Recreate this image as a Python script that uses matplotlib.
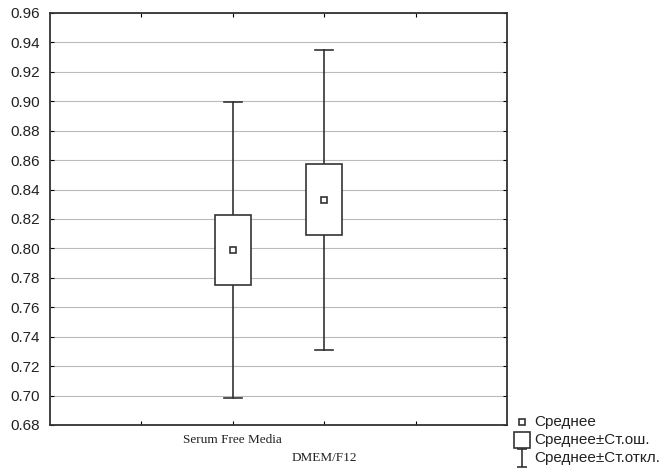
import matplotlib
matplotlib.use("Agg")
import matplotlib.pyplot as plt
from matplotlib.lines import Line2D
from matplotlib.patches import Rectangle
from matplotlib.path import Path

groups = ["Serum Free Media", "DMEM/F12"]
means = [0.799, 0.833]
se = [0.0238, 0.0242]
sd = [0.1008, 0.1019]
yticks = [0.68, 0.70, 0.72, 0.74, 0.76, 0.78, 0.80, 0.82, 0.84, 0.86, 0.88, 0.90, 0.92, 0.94, 0.96]
legend_labels = ["Среднее", "Среднее±Ст.ош.", "Среднее±Ст.откл."]

positions = [2, 3]
W, H = 662, 472

fig = plt.figure(figsize=(6.62, 4.72), dpi=100)
ax = fig.add_axes([50/W, 1-425/H, 457/W, 412/H])
ax.set_xlim(0, 5)
ax.set_ylim(0.68, 0.96)

col = "#333333"
for p, m, e, s in zip(positions, means, se, sd):
    ax.plot([p, p], [m - s, m - e], color=col, lw=1.2, zorder=3)
    ax.plot([p, p], [m + e, m + s], color=col, lw=1.2, zorder=3)
    ax.plot([p - 0.1, p + 0.1], [m - s, m - s], color=col, lw=1.2, zorder=3)
    ax.plot([p - 0.1, p + 0.1], [m + s, m + s], color=col, lw=1.2, zorder=3)
    ax.add_patch(Rectangle((p - 0.2, m - e), 0.4, 2 * e, facecolor="white",
                           edgecolor=col, lw=1.2, zorder=4))
    ax.plot([p], [m], marker="s", ms=5, mfc="white", mec=col, mew=1.2, zorder=5)

ax.set_yticks(yticks)
ax.set_yticklabels([f"{v:.2f}" for v in yticks], fontsize=11, color="#222222",
                   family="Liberation Sans")
ax.yaxis.grid(True, color="#bbbbbb", lw=0.8)
ax.set_axisbelow(True)
ax.tick_params(axis="y", direction="in", length=3, right=True, pad=7)
ax.set_xticks([1, 2, 3, 4])
ax.set_xticklabels([])
ax.tick_params(axis="x", direction="in", length=3, top=True)
for sp in ax.spines.values():
    sp.set_color(col)
    sp.set_linewidth(1.3)

# staggered category labels
for i, (p, g) in enumerate(zip(positions, groups)):
    ax.annotate(g, xy=(p, 0.68), xycoords="data", xytext=(0, -15 - 18 * i),
                textcoords="offset pixels", ha="center", va="center",
                fontsize=9.5, family="Liberation Serif", color="#222222",
                annotation_clip=False)

# legend (manual)
ibeam = Path([(-0.5, -1), (0.5, -1), (0, -1), (0, 1), (-0.5, 1), (0.5, 1)],
             [Path.MOVETO, Path.LINETO, Path.MOVETO, Path.LINETO, Path.MOVETO, Path.LINETO])
leg_markers = [dict(marker="s", ms=5), dict(marker="s", ms=12), dict(marker=ibeam, ms=13)]
leg_y = [422, 440, 458]
for lab, mk, y in zip(legend_labels, leg_markers, leg_y):
    if mk["marker"] is ibeam:
        fig.add_artist(Line2D([522/W], [1 - y/H], transform=fig.transFigure,
                              marker=ibeam, ms=13, mec=col, mew=1.2, ls="none"))
    else:
        fig.add_artist(Line2D([522/W], [1 - y/H], transform=fig.transFigure,
                              marker="s", ms=mk["ms"], mfc="white", mec=col,
                              mew=1.2, ls="none"))
    fig.text(534/W, 1 - y/H, lab, ha="left", va="center", fontsize=11,
             family="Liberation Sans", color="#222222")

fig.savefig("out.png", dpi=100, facecolor="white")
